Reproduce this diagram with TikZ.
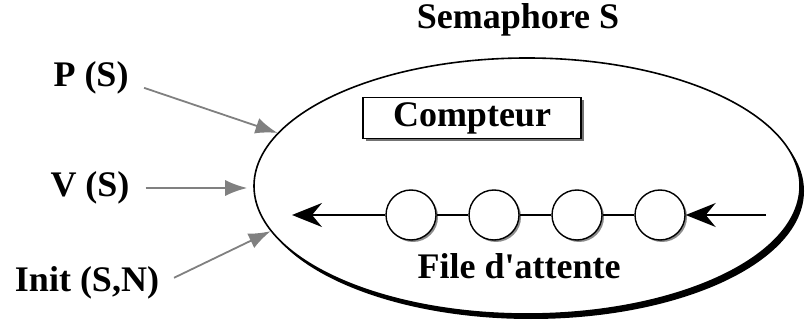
\documentclass[tikz,border=0pt]{standalone}
\usepackage{fontspec}
\setmainfont{Liberation Serif}
\usetikzlibrary{shapes.geometric,shadows,arrows.meta}

\def\circsep{83}
\def\circrad{25pt}

\begin{document}
\begin{tikzpicture}[x=1pt, y=-1pt,
% Here are defined the styles of the semaphore parts (e.g. ellipse, counter, queue)
every node/.style={
font=\fontsize{36}{40}\selectfont\bfseries },
label/.style={
inner sep=4pt },
sem/.style={
ellipse, draw=black, line width=1.6pt, fill=white,
minimum width=546pt, minimum height=256pt, inner sep=0,
drop shadow={shadow xshift=4pt, shadow yshift=-5pt, fill=black, opacity=1} },
counter/.style={
rectangle, draw=black, line width=1.4pt, fill=white,
minimum width=218pt, minimum height=41pt, inner sep=0,
drop shadow={shadow xshift=3pt, shadow yshift=-3pt, fill=black!55, opacity=1} },
qcell/.style={
circle, draw=black, line width=1.4pt, fill=white,
minimum size=2*\circrad, inner sep=0,
drop shadow={shadow xshift=2pt, shadow yshift=-2pt, fill=black!45, opacity=1} },
call/.style={
draw=black!50, line width=1.8pt, shorten <=12pt,
-{Latex[length=22pt, width=16pt]} },
flow/.style={
draw=black, line width=1.6pt,
-{Stealth[length=30pt, width=24pt, inset=10pt]} },
]
\useasboundingbox (0,0) rectangle (808,320);

%%%%%%%%%%%%%%%%%%%%%%%%
%%% THE SEMAPHORE
%%%%%%%%%%%%%%%%%%%%%%%%

% 1st the ellipse, then its title, then the counter
\node[sem] (sem) at (527,186) {};
\node (title) at (518,20) {Semaphore S};
\node[counter] (cpt) at (472,118) {Compteur};

% The 4 cells of the queue
\foreach \i in {1,...,4}
  \node[qcell] (q\i) at (411+\i*\circsep-\circsep,215) {};
\foreach \i/\j in {1/2,2/3,3/4}
  \draw[line width=1.4pt] (q\i) -- (q\j);
\node (file) at (519,266) {File d\textquotesingle attente};

% Queue in and out
\coordinate (qin) at (766,215);
\coordinate (qout) at (292,215);
\draw[flow] (qin) -- (q4);
\draw[flow] (q1) -- (qout);

%%%% The 3 primitives
\node[label] (p) at (91,78) {P (S)};
\node[label] (v) at (90,188) {V (S)};
\node[label] (init) at (87,283) {Init (S,N)};

\draw[call] (p.east) ++(0,6) -- (sem.168);
\draw[call, shorten >=6pt] (v.east) -- (v.east -| sem.west);
\draw[call] (init.east) -- (sem.190);

\end{tikzpicture}
\end{document}
